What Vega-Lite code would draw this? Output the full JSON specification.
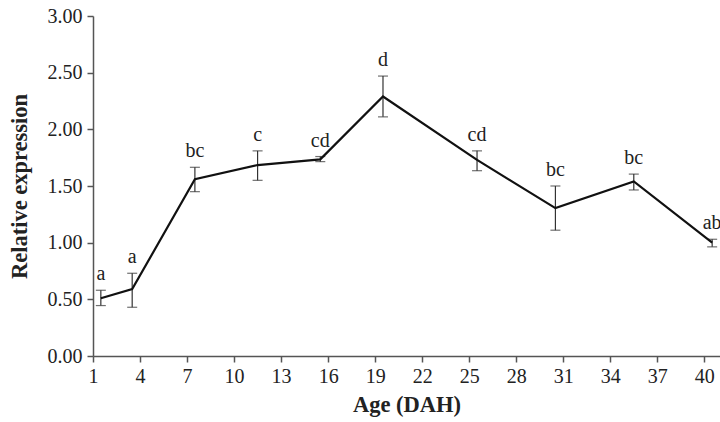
{
  "$schema": "https://vega.github.io/schema/vega-lite/v6.json",
  "autosize": "none",
  "padding": {"left": 93, "top": 16, "right": 0, "bottom": 66},
  "width": 627,
  "height": 340,
  "background": "white",
  "config": {
    "view": {"stroke": null},
    "font": "Liberation Serif",
    "axis": {
      "grid": false,
      "domainColor": "#555555",
      "tickColor": "#555555",
      "domainWidth": 1.5,
      "tickWidth": 1.5,
      "tickSize": 6,
      "labelFont": "Liberation Serif",
      "labelFontSize": 20,
      "labelColor": "#222222",
      "titleFont": "Liberation Serif",
      "titleFontSize": 22.5,
      "titleFontWeight": "bold",
      "titleColor": "#222222"
    }
  },
  "data": {
    "values": [
      {"age": 1.5, "mean": 0.51, "lo": 0.445, "hi": 0.58, "grp": "a"},
      {"age": 3.5, "mean": 0.59, "lo": 0.43, "hi": 0.73, "grp": "a"},
      {"age": 7.5, "mean": 1.56, "lo": 1.45, "hi": 1.665, "grp": "bc"},
      {"age": 11.5, "mean": 1.685, "lo": 1.55, "hi": 1.81, "grp": "c"},
      {"age": 15.5, "mean": 1.735, "lo": 1.715, "hi": 1.76, "grp": "cd"},
      {"age": 19.5, "mean": 2.29, "lo": 2.11, "hi": 2.47, "grp": "d"},
      {"age": 25.5, "mean": 1.73, "lo": 1.635, "hi": 1.81, "grp": "cd"},
      {"age": 30.5, "mean": 1.305, "lo": 1.11, "hi": 1.5, "grp": "bc"},
      {"age": 35.5, "mean": 1.54, "lo": 1.465, "hi": 1.605, "grp": "bc"},
      {"age": 40.5, "mean": 1.0, "lo": 0.963, "hi": 1.03, "grp": "ab"}
    ]
  },
  "encoding": {
    "x": {
      "field": "age",
      "type": "quantitative",
      "scale": {"domain": [1, 41], "nice": false, "zero": false},
      "axis": {
        "title": "Age (DAH)",
        "values": [1, 4, 7, 10, 13, 16, 19, 22, 25, 28, 31, 34, 37, 40],
        "labelPadding": 4,
        "titlePadding": 7,
        "labelFlush": false,
        "labelOverlap": false
      }
    }
  },
  "layer": [
    {
      "mark": {"type": "errorbar", "color": "#333333", "thickness": 1.2, "ticks": {"size": 10, "thickness": 1.2, "color": "#333333"}},
      "encoding": {
        "y": {
          "field": "lo",
          "type": "quantitative",
          "scale": {"domain": [0, 3], "nice": false},
          "axis": {
            "title": "Relative expression",
            "values": [0, 0.5, 1, 1.5, 2, 2.5, 3],
            "format": ".2f",
            "labelPadding": 5,
            "titlePadding": 16
          }
        },
        "y2": {"field": "hi"}
      }
    },
    {
      "mark": {"type": "line", "color": "#111111", "strokeWidth": 2.2},
      "encoding": {
        "y": {"field": "mean", "type": "quantitative"}
      }
    },
    {
      "mark": {"type": "text", "font": "Liberation Serif", "fontSize": 20, "color": "#222222", "baseline": "alphabetic", "dy": -10},
      "encoding": {
        "y": {"field": "hi", "type": "quantitative"},
        "text": {"field": "grp"}
      }
    }
  ]
}
